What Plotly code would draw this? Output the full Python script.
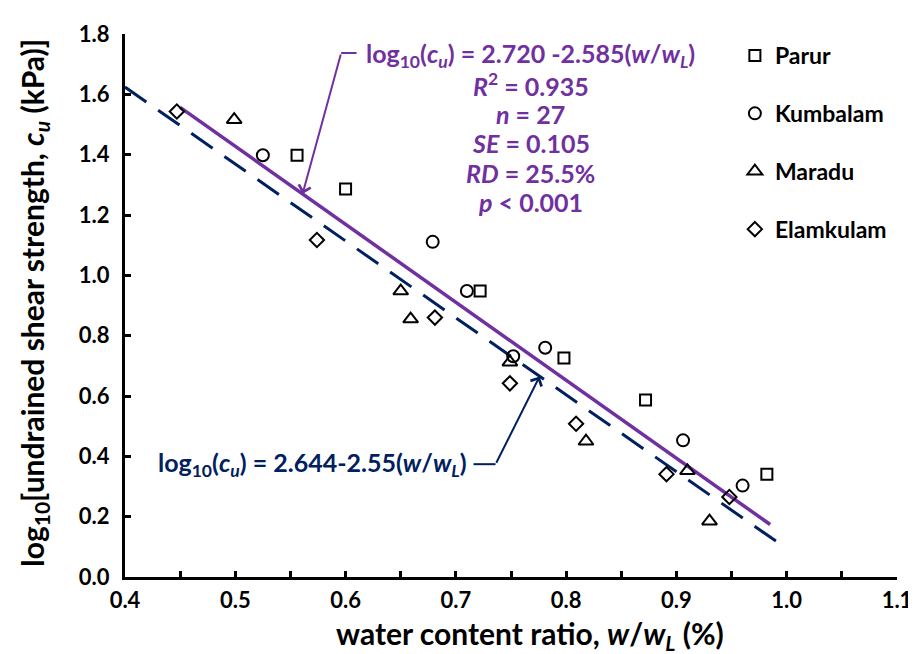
import plotly.graph_objects as go

# ---- data ----
parur_x = [0.556, 0.600, 0.722, 0.798, 0.872, 0.982]
parur_y = [1.398, 1.286, 0.948, 0.726, 0.587, 0.341]

kumbalam_x = [0.525, 0.679, 0.710, 0.752, 0.781, 0.906, 0.960]
kumbalam_y = [1.398, 1.111, 0.948, 0.732, 0.760, 0.453, 0.303]

maradu_x = [0.499, 0.650, 0.659, 0.749, 0.818, 0.910, 0.930]
maradu_y = [1.516, 0.948, 0.855, 0.712, 0.450, 0.352, 0.185]

elamkulam_x = [0.447, 0.574, 0.681, 0.749, 0.809, 0.891, 0.948]
elamkulam_y = [1.543, 1.117, 0.860, 0.642, 0.508, 0.341, 0.265]

fit_x = [0.45, 0.985]          # purple regression line (this study)
fit_y = [1.557, 0.174]
ref_x = [0.40, 1.00]           # dashed navy reference line
ref_y = [1.624, 0.094]

x_ticks = [0.4, 0.5, 0.6, 0.7, 0.8, 0.9, 1.0, 1.1]
y_ticks = [0.0, 0.2, 0.4, 0.6, 0.8, 1.0, 1.2, 1.4, 1.6, 1.8]

PURPLE = "#7030A0"
NAVY = "#002060"
FONT = "Lato"

fig = go.Figure()

fig.add_trace(go.Scatter(x=ref_x, y=ref_y, mode="lines", showlegend=False,
                         line=dict(color=NAVY, width=3, dash="26px,14.4px")))
fig.add_trace(go.Scatter(x=fit_x, y=fit_y, mode="lines", showlegend=False,
                         line=dict(color=PURPLE, width=3.5)))

series = [
    ("Parur", parur_x, parur_y, "square-open", 11),
    ("Kumbalam", kumbalam_x, kumbalam_y, "circle-open", 12),
    ("Maradu", maradu_x, maradu_y, "triangle-up-open", 13),
    ("Elamkulam", elamkulam_x, elamkulam_y, "diamond-open", 11),
]
for name, xs, ys, sym, sz in series:
    fig.add_trace(go.Scatter(x=xs, y=ys, mode="markers", name=name, legendgroup=name,
                             marker=dict(symbol=sym, size=sz, color="black",
                                         line=dict(color="black", width=2))))

ann_font_p = dict(family=FONT, size=25, color=PURPLE, weight="bold")
ann_font_n = dict(family=FONT, size=25, color=NAVY, weight="bold")

top_lines = [
    "log<sub>10</sub>(<i>c<sub>u</sub></i>) = 2.720 -2.585(<i>w</i>/<i>w<sub>L</sub></i>)",
    "<i>R</i><sup>2</sup> = 0.935",
    "<i>n</i> = 27",
    "<i>SE</i> = 0.105",
    "<i>RD</i> = 25.5%",
    "<i>p</i> < 0.001",
]
top_y = [1.732, 1.634, 1.536, 1.438, 1.340, 1.242]
annotations = []
for txt, yy in zip(top_lines, top_y):
    annotations.append(dict(x=0.768, y=yy, xref="x", yref="y", text=txt, showarrow=False,
                            font=ann_font_p, xanchor="center", yanchor="middle"))

# top callout arrow
annotations.append(dict(x=0.561, y=1.27, xref="x", yref="y", ax=0.596, ay=1.737,
                        axref="x", ayref="y", text="", showarrow=True, arrowhead=4,
                        arrowsize=1.2, arrowwidth=2, arrowcolor=PURPLE, standoff=0))
# bottom equation and callout
annotations.append(dict(x=0.570, y=0.374, xref="x", yref="y",
                        text="log<sub>10</sub>(<i>c<sub>u</sub></i>) = 2.644-2.55(<i>w</i>/<i>w<sub>L</sub></i>)",
                        showarrow=False, font=ann_font_n, xanchor="center", yanchor="middle"))
annotations.append(dict(x=0.776, y=0.665, xref="x", yref="y", ax=0.736, ay=0.374,
                        axref="x", ayref="y", text="", showarrow=True, arrowhead=4,
                        arrowsize=1.2, arrowwidth=2, arrowcolor=NAVY, standoff=0))

# axis titles
annotations.append(dict(x=0.525, y=-0.106, xref="paper", yref="paper",
                        text="water content ratio, <i>w</i>/<i>w<sub>L</sub></i> (%)",
                        showarrow=False, xanchor="center", yanchor="middle",
                        font=dict(family=FONT, size=30, color="black", weight="bold")))
annotations.append(dict(x=-0.118, y=0.505, xref="paper", yref="paper", textangle=-90,
                        text="log<sub>10</sub>[undrained shear strength, <i>c<sub>u</sub></i> (kPa)]",
                        showarrow=False, xanchor="center", yanchor="middle",
                        font=dict(family=FONT, size=30, color="black", weight="bold")))

shapes = [
    dict(type="line", xref="x", yref="y", x0=0.596, y0=1.737, x1=0.610, y1=1.737,
         line=dict(color=PURPLE, width=2)),
    dict(type="line", xref="x", yref="y", x0=0.716, y0=0.374, x1=0.736, y1=0.374,
         line=dict(color=NAVY, width=2)),
]

fig.update_layout(
    width=916, height=654,
    margin=dict(l=117, r=24, t=20, b=85),
    paper_bgcolor="white", plot_bgcolor="white",
    font=dict(family=FONT, color="black"),
    annotations=annotations, shapes=shapes,
    legend=dict(x=0.79, y=1.0, xanchor="left", yanchor="top", tracegroupgap=25,
                bgcolor="rgba(0,0,0,0)",
                font=dict(family=FONT, size=23, color="black", weight="bold")),
)
fig.update_xaxes(range=[0.4, 1.1], tickvals=x_ticks, ticktext=[f"{v:.1f}" for v in x_ticks],
                 showgrid=False, zeroline=False, showline=True, linecolor="black", linewidth=3,
                 ticks="inside", ticklen=6, tickwidth=3, tickcolor="black",
                 minor=dict(dtick=0.05, tick0=0.4, ticks="inside", ticklen=6, tickwidth=3,
                            tickcolor="black", showgrid=False),
                 ticklabelstandoff=2,
                 tickfont=dict(family=FONT, size=22, color="black", weight="bold"))
fig.update_yaxes(range=[0, 1.8], tickvals=y_ticks, ticktext=[f"{v:.1f}" for v in y_ticks],
                 showgrid=False, zeroline=False, showline=True, linecolor="black", linewidth=3,
                 ticks="inside", ticklen=6, tickwidth=3, tickcolor="black",
                 ticklabelstandoff=8,
                 tickfont=dict(family=FONT, size=22, color="black", weight="bold"))

fig.write_html("out.html")
